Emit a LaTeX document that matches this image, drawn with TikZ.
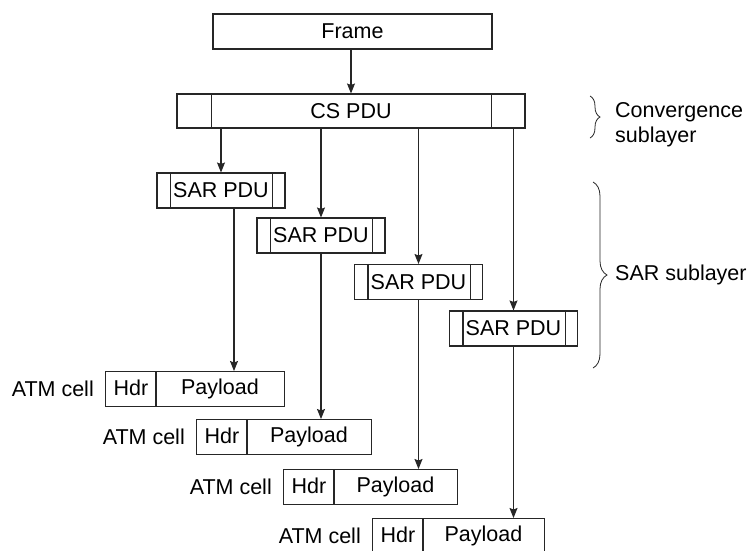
\documentclass[tikz,border=0pt]{standalone}
\usepackage{fontspec}
\setmainfont{Liberation Sans}
\usetikzlibrary{arrows.meta,decorations.pathreplacing,calc}
\begin{document}
\begin{tikzpicture}[x=1pt,y=-1pt,
  ln/.style={line width=1.05pt, draw=black!85},
  box/.style={ln, draw, rectangle, inner sep=0pt, minimum height=35pt, font=\fontsize{21.5}{25}\selectfont},
  txt/.style={inner sep=0pt, font=\fontsize{21.5}{25}\selectfont},
  arr/.style={ln, -{Stealth[length=10pt,width=8pt,inset=1.5pt]}},
  brc/.style={ln, line width=0.8pt, decorate, decoration={brace, amplitude=#1}},
]
\useasboundingbox (0,0) rectangle (748,550);
% top boxes
\node[box, minimum width=279pt] (frame) at (352.5,31.5) {Frame};
\node[box, minimum width=348pt, minimum height=34pt] (cs) at (351,111) {CS PDU};
\draw[ln] ([xshift=35pt]cs.north west) -- ([xshift=35pt]cs.south west);
\draw[ln] ([xshift=-34pt]cs.north east) -- ([xshift=-34pt]cs.south east);
\draw[arr] (frame.south -| cs.north) -- (cs.north);
% SAR PDUs
\foreach \n/\x/\y in {s1/221/190.5, s2/321/235.5, s3/418.5/282, s4/513.5/328.5}{
  \node[box, minimum width=128pt] (\n) at (\x,\y) {SAR PDU};
  \draw[ln] ([xshift=14pt]\n.north west) -- ([xshift=14pt]\n.south west);
  \draw[ln] ([xshift=-13pt]\n.north east) -- ([xshift=-13pt]\n.south east);
  \draw[arr] (\n.north |- cs.south) -- (\n.north);
}
% ATM cells
\foreach \n/\x/\y/\w in {c1/105/371/179, c2/196/419/175, c3/283/469/174, c4/372/518/172}{
  \node[box, minimum width=\w pt, anchor=north west] (\n) at (\x,\y) {};
  \draw[ln] ([xshift=51pt]\n.north west) -- ([xshift=51pt]\n.south west);
  \node[txt] (\n h) at ([xshift=26pt,yshift=1pt]\n.west) {Hdr};
  \node[txt] (\n p) at ([xshift={51+(\w-51)/2}]\n.west) {Payload};
  \node[txt, anchor=east] (\n l) at ([xshift=-11pt]\n.west) {ATM cell};
}
% SAR -> cells
\draw[arr] ([xshift=13pt]s1.south) -- ([xshift=13pt]s1.south |- c1.north);
\draw[arr] (s2.south) -- (s2.south |- c2.north);
\draw[arr] (s3.south) -- (s3.south |- c3.north);
\draw[arr] (s4.south) -- (s4.south |- c4.north);
% braces
\coordinate (b1t) at (590,96);
\coordinate (b1b) at (590,138);
\coordinate (b2t) at (593,182);
\coordinate (b2b) at (593,368);
\draw[brc=10pt] (b1t) -- (b1b);
\draw[brc=14pt] (b2t) -- (b2b);
\node[txt, anchor=west, align=left] (conv) at (615,125) {Convergence\\sublayer};
\node[txt, anchor=west] (sarl) at (615,275) {SAR sublayer};
\end{tikzpicture}
\end{document}
